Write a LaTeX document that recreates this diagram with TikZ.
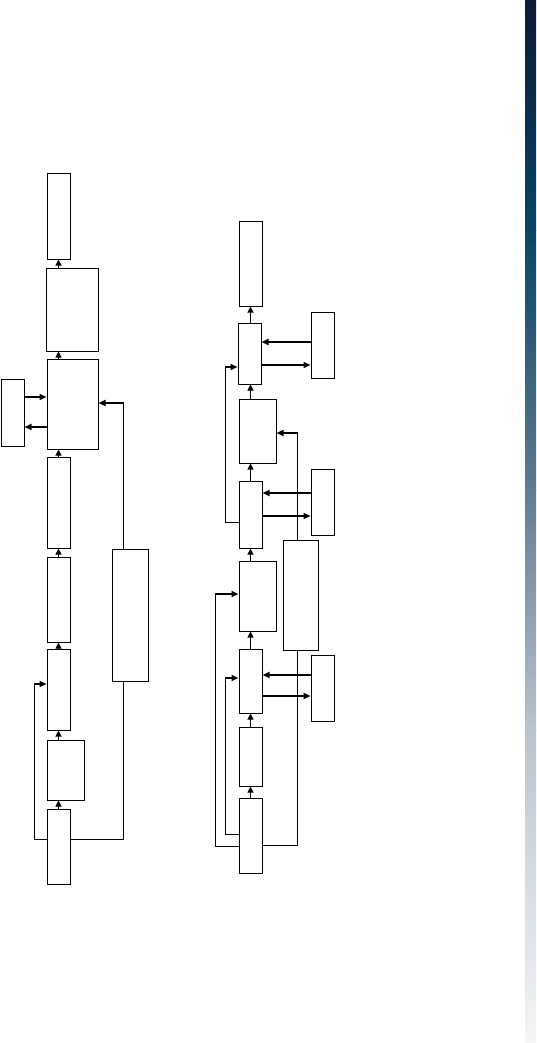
\documentclass[tikz,border=0pt]{standalone}
\usetikzlibrary{arrows.meta,calc}
\definecolor{gA}{HTML}{0A1C38}
\definecolor{gB}{HTML}{0A4566}
\definecolor{gC}{HTML}{5F7C93}
\definecolor{gD}{HTML}{B8C4CE}
\definecolor{gE}{HTML}{F4F5F7}
\tikzset{
  box/.style={draw, line width=1pt, inner sep=0pt},
  arr/.style={line width=1pt, -{Triangle[length=6pt,width=6pt]}},
  harr/.style={line width=2pt, -{Triangle[length=7pt,width=6pt]}},
  ln/.style={line width=1pt},
}
\newcommand{\bx}[5]{\node[box, anchor=north west, minimum width=#4pt-#2pt, minimum height=#5pt-#3pt] (#1) at (#2+0.5,#3+0.5) {};}
\begin{document}
\begin{tikzpicture}[x=1pt,y=-1pt]
\useasboundingbox (0,0) rectangle (536,1043);
% gradient bar
\shade[top color=gA, bottom color=gB] (525,0) rectangle (536,230);
\shade[top color=gB, bottom color=gC] (525,230) rectangle (536,490);
\shade[top color=gC, bottom color=gD] (525,490) rectangle (536,730);
\shade[top color=gD, bottom color=gE] (525,730) rectangle (536,1043);
% left column
\bx{A}{46}{173}{69}{258}
\bx{B}{45}{267}{97}{350}
\bx{C}{46}{358}{97}{448}
\bx{D}{0}{378}{23}{445}
\bx{E}{46}{456}{69}{547}
\bx{F}{46}{556}{69}{641}
\bx{G}{46}{648}{69}{729}
\bx{H}{46}{739}{83}{799}
\bx{J}{46}{808}{69}{883}
\bx{K}{111}{548}{147}{680}
% right column
\bx{R1}{238}{220}{261}{305}
\bx{R2}{237}{322}{260}{383}
\bx{S1}{310}{311}{333}{377}
\bx{R3}{238}{398}{275}{462}
\bx{R4}{238}{480}{261}{547}
\bx{S2}{310}{468}{333}{534}
\bx{T}{282}{539}{317}{649}
\bx{R5}{238}{560}{275}{630}
\bx{R6}{238}{648}{261}{712}
\bx{S3}{310}{654}{333}{720}
\bx{R7}{238}{726}{261}{785}
\bx{R8}{238}{797}{261}{872}
% helper coordinates
\coordinate (xa) at (58.5,0);
\coordinate (xb) at (250.5,0);
\coordinate (xk) at (123.5,0);
\coordinate (xl) at (34.5,0);
\coordinate (xt) at (297.5,0);
\coordinate (xf1) at (225.5,0);
\coordinate (xf2) at (215.5,0);
\coordinate (y397) at (0,397);
\coordinate (y427) at (0,427);
\coordinate (y403) at (0,403);
\coordinate (y839) at (0,839.5);
\coordinate (y684) at (0,684);
\coordinate (y342) at (0,342);
\coordinate (y365) at (0,365);
\coordinate (y367) at (0,367);
\coordinate (y433) at (0,433);
\coordinate (y493) at (0,493);
\coordinate (y516) at (0,516);
\coordinate (y522) at (0,522.5);
\coordinate (y594) at (0,594);
\coordinate (y675) at (0,675);
\coordinate (y696) at (0,696);
\coordinate (y678) at (0,678);
\coordinate (y834) at (0,834.5);
\coordinate (y846) at (0,846.5);
\coordinate (y845) at (0,845.5);
% left vertical arrows
\draw[arr] (xa |- B.north) -- (xa |- A.south);
\draw[arr] (xa |- C.north) -- (xa |- B.south);
\draw[arr] (xa |- E.north) -- (xa |- C.south);
\draw[arr] (xa |- F.north) -- (xa |- E.south);
\draw[arr] (xa |- G.north) -- (xa |- F.south);
\draw[arr] (xa |- H.north) -- (xa |- G.south);
\draw[arr] (xa |- J.north) -- (xa |- H.south);
% left side arrows
\draw[harr] (D.east |- y397) -- (C.west |- y397);
\draw[harr] (C.west |- y427) -- (D.east |- y427);
\draw[ln] (J.east |- y839) -| (xk |- K.south);
\draw[ln] (xk |- K.north) -- (xk |- y403);
\draw[harr] ([xshift=0.5pt]xk |- y403) -- (C.east |- y403);
\draw[ln] (J.west |- y839) -| (xl |- y684);
\draw[harr] ([xshift=-0.5pt]xl |- y684) -- (G.west |- y684);
% right vertical arrows
\draw[arr] (xb |- R2.north) -- (xb |- R1.south);
\draw[arr] (xb |- R3.north) -- (xb |- R2.south);
\draw[arr] (xb |- R4.north) -- (xb |- R3.south);
\draw[arr] (xb |- R5.north) -- (xb |- R4.south);
\draw[arr] (xb |- R6.north) -- (xb |- R5.south);
\draw[arr] (xb |- R7.north) -- (xb |- R6.south);
\draw[arr] (xb |- R8.north) -- (xb |- R7.south);
% side boxes
\draw[harr] (S1.west |- y342) -- (R2.east |- y342);
\draw[harr] (R2.east |- y365) -- (S1.west |- y365);
\draw[harr] (S2.west |- y493) -- (R4.east |- y493);
\draw[harr] (R4.east |- y516) -- (S2.west |- y516);
\draw[harr] (S3.west |- y675) -- (R6.east |- y675);
\draw[harr] (R6.east |- y696) -- (S3.west |- y696);
% feedback lines
\draw[ln] (R4.west |- y522) -| (xf1 |- y367);
\draw[harr] ([xshift=-0.5pt]xf1 |- y367) -- (R2.west |- y367);
\draw[ln] (R8.west |- y846) -| (xf2 |- y594);
\draw[harr] ([xshift=-0.5pt]xf2 |- y594) -- (R5.west |- y594);
\draw[ln] (R8.west |- y834) -| (xf1 |- y678);
\draw[harr] ([xshift=-0.5pt]xf1 |- y678) -- (R6.west |- y678);
% T connections
\draw[ln] (R8.east |- y845) -| (xt |- T.south);
\draw[ln] (xt |- T.north) -- (xt |- y433);
\draw[harr] ([xshift=0.5pt]xt |- y433) -- (R3.east |- y433);
\end{tikzpicture}
\end{document}
